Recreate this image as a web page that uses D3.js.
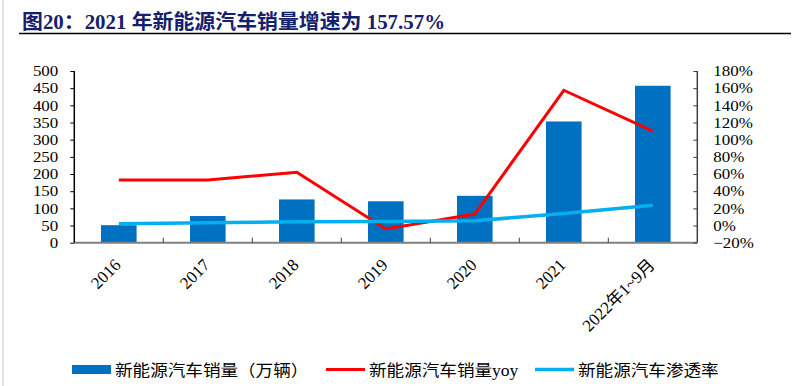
<!DOCTYPE html>
<html>
<head>
<meta charset="utf-8">
<script src="https://cdn.jsdelivr.net/npm/d3@7"></script>
<style>
  html, body { margin: 0; padding: 0; background: #fff; }
  svg { display: block; }
</style>
</head>
<body>
<svg id="chart" width="803" height="386"></svg>
<script>
const categories = ["2016", "2017", "2018", "2019", "2020", "2021", "2022年1~9月"];
const salesValues = [51, 77.7, 126, 120.6, 136.5, 353, 457];
const yoyValues = [0.53, 0.53, 0.62, -0.04, 0.134, 1.5757, 1.10];
const penetrationValues = [0.02, 0.031, 0.044, 0.046, 0.056, 0.14, 0.235];
const leftTicks = [0, 50, 100, 150, 200, 250, 300, 350, 400, 450, 500];
const rightTicks = [-0.2, 0, 0.2, 0.4, 0.6, 0.8, 1.0, 1.2, 1.4, 1.6, 1.8];
const titleText = "图20：2021 年新能源汽车销量增速为 157.57%";
const legendLabels = ["新能源汽车销量（万辆）", "新能源汽车销量yoy", "新能源汽车渗透率"];

const serif = "'Liberation Serif', 'Times New Roman', 'Noto Sans CJK SC', serif";
const svg = d3.select("#chart");

// left page edge
svg.append("rect").attr("x", 2).attr("y", 0).attr("width", 2).attr("height", 386).attr("fill", "#e3e3e3");

// title
svg.append("text")
  .attr("transform", "translate(22,28.5) scale(1.02,1)")
  .attr("font-family", serif)
  .attr("font-weight", 700)
  .attr("font-size", 20.5)
  .attr("fill", "#15206B")
  .text(titleText);
svg.append("line").attr("x1", 19).attr("x2", 791).attr("y1", 33.5).attr("y2", 33.5)
  .attr("stroke", "#000").attr("stroke-width", 1.5);

const x = d3.scaleBand().domain(categories).range([74.3, 697.3]).paddingInner(0.6).paddingOuter(0.3);
const yL = d3.scaleLinear().domain([0, 500]).range([242.7, 71]);
const yR = d3.scaleLinear().domain([-0.2, 1.8]).range([242.7, 71]);

// bars
svg.append("g").selectAll("rect").data(categories).join("rect")
  .attr("x", d => x(d))
  .attr("width", x.bandwidth())
  .attr("y", (d, i) => yL(salesValues[i]))
  .attr("height", (d, i) => yL(0) - yL(salesValues[i]))
  .attr("fill", "#0070C0");

// bottom axis
const xl = x.range()[0], xr = x.range()[1];
svg.append("line").attr("x1", xl).attr("x2", xr).attr("y1", yL(0)).attr("y2", yL(0))
  .attr("stroke", "#808080").attr("stroke-width", 2);
const gap = x.step() * x.paddingInner() / 2;
svg.append("g").selectAll("line").data(categories.slice(1)).join("line")
  .attr("x1", d => x(d) - gap).attr("x2", d => x(d) - gap)
  .attr("y1", yL(0)).attr("y2", yL(0) - 5)
  .attr("stroke", "#404040").attr("stroke-width", 1);

// x labels
svg.append("g").selectAll("text").data(categories).join("text")
  .attr("transform", d => `translate(${x(d) + x.bandwidth() / 2 + 3},266) rotate(-45)`)
  .attr("text-anchor", "end")
  .attr("font-family", serif)
  .attr("font-size", 17)
  .attr("fill", "#000")
  .text(d => d);

// left axis
const gL = svg.append("g").attr("transform", `translate(${xl},0)`)
  .call(d3.axisLeft(yL).tickValues(leftTicks).tickSize(4).tickPadding(12).tickFormat(d3.format("d")));
gL.select(".domain").attr("stroke", "#000").attr("stroke-width", 1.5).attr("d", `M0,${yL(500)}V${yL(0)}`);
gL.selectAll(".tick line").attr("stroke", "#000");
gL.selectAll(".tick text").attr("x", 0).attr("transform", "translate(-16,0) scale(1.13,1)")
  .attr("font-family", serif).attr("font-size", 15).attr("fill", "#000");

// right axis
const gR = svg.append("g").attr("transform", `translate(${xr},0)`)
  .call(d3.axisRight(yR).tickValues(rightTicks).tickSize(-4).tickPadding(16).tickFormat(d3.format(".0%")));
gR.select(".domain").attr("stroke", "#404040").attr("stroke-width", 1.5).attr("d", `M0,${yR(1.8)}V${yR(-0.2)}`);
gR.selectAll(".tick line").attr("stroke", "#404040");
gR.selectAll(".tick text").attr("x", 0).attr("transform", "translate(16,0) scale(1.13,1)")
  .attr("font-family", serif).attr("font-size", 15).attr("fill", "#000");

// lines
const cx = d => x(d) + x.bandwidth() / 2;
const lineGen = d3.line().x((d, i) => cx(categories[i])).y(d => yR(d));
svg.append("path").datum(yoyValues).attr("d", lineGen)
  .attr("fill", "none").attr("stroke", "#FF0000").attr("stroke-width", 3).attr("stroke-linejoin", "miter");
svg.append("path").datum(penetrationValues).attr("d", lineGen)
  .attr("fill", "none").attr("stroke", "#00B0F0").attr("stroke-width", 3.5).attr("stroke-linejoin", "round");

// legend
const legendText = (tx, label) => svg.append("text")
  .attr("transform", `translate(${tx},376) scale(1.1,1)`)
  .attr("font-family", "'Liberation Serif', 'Noto Sans CJK SC', serif")
  .attr("font-size", 16)
  .attr("fill", "#000")
  .text(label);
svg.append("rect").attr("x", 72).attr("y", 365).attr("width", 39).attr("height", 9).attr("fill", "#0070C0");
legendText(115, legendLabels[0]);
svg.append("line").attr("x1", 326).attr("x2", 365).attr("y1", 369.5).attr("y2", 369.5)
  .attr("stroke", "#FF0000").attr("stroke-width", 3);
legendText(369, legendLabels[1]);
svg.append("line").attr("x1", 535).attr("x2", 574).attr("y1", 369.5).attr("y2", 369.5)
  .attr("stroke", "#00B0F0").attr("stroke-width", 3.5);
legendText(578, legendLabels[2]);
</script>
</body>
</html>
